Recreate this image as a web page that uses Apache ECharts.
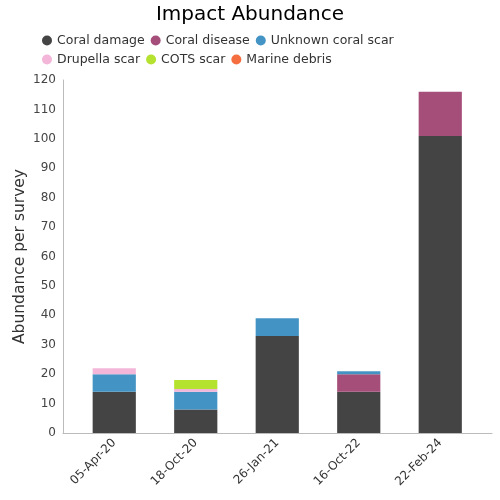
<!DOCTYPE html>
<html><head><meta charset="utf-8">
<script src="https://cdn.jsdelivr.net/npm/echarts@6/dist/echarts.min.js"></script>
<style>html,body{margin:0;padding:0;background:#fff}#c{width:500px;height:500px}</style>
</head><body><div id="c"></div>
<script>
const categories = ['05-Apr-20','18-Oct-20','26-Jan-21','16-Oct-22','22-Feb-24'];
const coralDamage = [14, 8, 33, 14, 101];
const coralDisease = [0, 0, 0, 6, 15];
const unknownScar = [6, 6, 6, 1, 0];
const drupellaScar = [2, 1, 0, 0, 0];
const cotsScar = [0, 3, 0, 0, 0];
const marineDebris = [0, 0, 0, 0, 0];
const seriesNames = ['Coral damage','Coral disease','Unknown coral scar','Drupella scar','COTS scar','Marine debris'];
const seriesColors = ['#444444','#a54e79','#4394c4','#f3b6d9','#b5e22e','#f56e3f'];
const seriesData = [coralDamage, coralDisease, unknownScar, drupellaScar, cotsScar, marineDebris];

const chart = echarts.init(document.getElementById('c'), null, {renderer:'canvas'});
const font = 'DejaVu Sans';
chart.setOption({
  animation:false,
  title:{text:'Impact Abundance',left:'center',top:0,textStyle:{fontFamily:font,fontSize:20,fontWeight:'normal',color:'#000'}},
  legend:{
    top:34,left:42,width:360,itemGap:6,itemWidth:10,itemHeight:10,icon:'circle',padding:0,
    textStyle:{fontFamily:font,fontSize:12.5,color:'#333',lineHeight:13},
    data:seriesNames
  },
  grid:[
    {left:63,right:8,top:80,bottom:67},
    {left:73.5,right:19,top:80,bottom:67}
  ],
  xAxis:[
    {type:'value',gridIndex:0,min:0,max:1,
      axisLine:{show:true,onZero:false,lineStyle:{color:'#bbb'}},axisTick:{show:false},
      axisLabel:{show:false},splitLine:{show:false}},
    {type:'category',gridIndex:1,data:categories,
      axisLine:{show:false},axisTick:{show:false},
      axisLabel:{rotate:45,fontFamily:font,fontSize:12,color:'#333',margin:8}}
  ],
  yAxis:[
    {type:'value',gridIndex:0,min:0,max:120,interval:10,
      name:'Abundance per survey',nameLocation:'middle',nameGap:35,nameMoveOverlap:false,
      nameTextStyle:{fontFamily:font,fontSize:15.5,color:'#333'},
      axisLine:{show:true,lineStyle:{color:'#bbb'}},axisTick:{show:false},
      splitLine:{show:false},
      axisLabel:{fontFamily:font,fontSize:12,color:'#444',margin:7}},
    {type:'value',gridIndex:1,min:0,max:120,interval:10,show:false,splitLine:{show:false}}
  ],
  series: seriesNames.map((n,i)=>({
    name:n,type:'bar',stack:'a',barWidth:'53%',xAxisIndex:1,yAxisIndex:1,
    itemStyle:{color:seriesColors[i]},
    data:seriesData[i].map(v=>v===0?null:v)
  }))
});
</script></body></html>
